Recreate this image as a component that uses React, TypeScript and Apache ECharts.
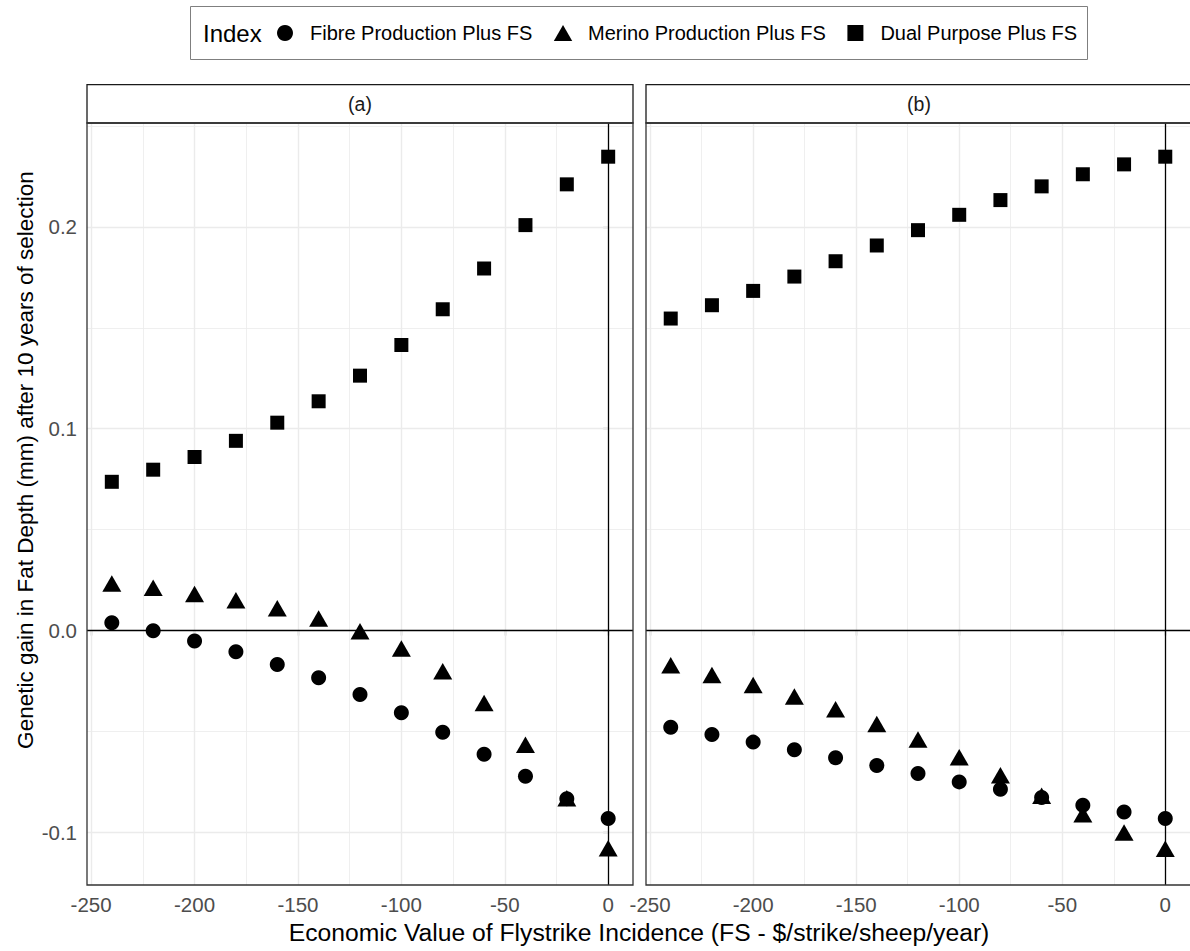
import React, { useEffect, useRef } from "react";
import * as echarts from "echarts";

// ---- data ----
const xValues = [-240, -220, -200, -180, -160, -140, -120, -100, -80, -60, -40, -20, 0];
const indexNames = ["Fibre Production Plus FS", "Merino Production Plus FS", "Dual Purpose Plus FS"];
const panelNames = ["(a)", "(b)"];

// panel (a)
const fibreA = [0.0039, -0.0001, -0.0052, -0.0105, -0.0168, -0.0234, -0.0317, -0.0408, -0.0504, -0.0613, -0.0722, -0.0833, -0.0932];
const merinoA = [0.0219, 0.0198, 0.0168, 0.0136, 0.0097, 0.0046, -0.0017, -0.0103, -0.0215, -0.0373, -0.058, -0.0845, -0.1093];
const dualA = [0.0737, 0.0797, 0.086, 0.094, 0.103, 0.1136, 0.1263, 0.1415, 0.1592, 0.1794, 0.2009, 0.2211, 0.2348];

// panel (b)
const fibreB = [-0.0479, -0.0515, -0.0553, -0.0591, -0.0631, -0.0669, -0.0709, -0.075, -0.0787, -0.0828, -0.0866, -0.0899, -0.0932];
const merinoB = [-0.0186, -0.0234, -0.0283, -0.034, -0.0404, -0.0477, -0.0553, -0.0641, -0.0731, -0.0832, -0.0924, -0.1015, -0.1095];
const dualB = [0.1546, 0.1612, 0.1683, 0.1754, 0.183, 0.1908, 0.1984, 0.206, 0.2133, 0.2201, 0.2261, 0.231, 0.2348];

const xTicks = [-250, -200, -150, -100, -50, 0];
const xMinor = [-225, -175, -125, -75, -25];
const yTicks = [-0.1, 0.0, 0.1, 0.2];
const yMinor = [-0.05, 0.05, 0.15, 0.25];

const X_MIN = -252;
const X_MAX = 12;
const Y_MIN = -0.1261;
const Y_MAX = 0.2515;

const FONT = "'Liberation Sans', Arial, sans-serif";

const GRID_TOP = 123;
const GRID_H = 762;
const GRID_W = 546;
const GRID_LEFTS = [87, 646];

function pts(vals: number[]) {
  return vals.map((v, i) => [xValues[i], v]);
}

export default function App() {
  const ref = useRef<HTMLDivElement>(null);

  useEffect(() => {
    document.body.style.margin = "0";
    if (!ref.current) return;
    const chart = echarts.init(ref.current, undefined, { renderer: "svg" });

    const panelData = [
      [fibreA, merinoA, dualA],
      [fibreB, merinoB, dualB],
    ];
    const symbols: any[] = [
      { symbol: "circle", symbolSize: 15, symbolOffset: [0, 0] },
      { symbol: "triangle", symbolSize: [19, 16.5], symbolOffset: [0, -2.75] },
      { symbol: "rect", symbolSize: 14, symbolOffset: [0, 0] },
    ];

    const grids = GRID_LEFTS.map((l) => ({ left: l, top: GRID_TOP, width: GRID_W, height: GRID_H, containLabel: false }));

    const xAxes = GRID_LEFTS.map((_, i) => ({
      type: "value",
      gridIndex: i,
      min: X_MIN,
      max: X_MAX,
      axisLine: { show: false },
      splitLine: { show: false },
      axisTick: { show: true, length: 5, customValues: xTicks, lineStyle: { color: "#333333", width: 1.2 } },
      axisLabel: {
        show: true,
        customValues: xTicks,
        color: "#4d4d4d",
        fontSize: 20.5,
        fontFamily: FONT,
        margin: 9,
        formatter: (v: number) => String(v),
      },
    }));

    const yAxes = GRID_LEFTS.map((_, i) => ({
      type: "value",
      gridIndex: i,
      min: Y_MIN,
      max: Y_MAX,
      axisLine: { show: false },
      splitLine: { show: false },
      axisTick: { show: i === 0, length: 5, customValues: yTicks, lineStyle: { color: "#333333", width: 1.2 } },
      axisLabel: {
        show: i === 0,
        customValues: yTicks,
        color: "#4d4d4d",
        fontSize: 20.5,
        fontFamily: FONT,
        margin: 10,
        formatter: (v: number) => v.toFixed(1),
      },
    }));

    const gridLineSeries: any[] = [];
    GRID_LEFTS.forEach((_, i) => {
      const major = { color: "#ebebeb", width: 1.4, type: "solid" };
      const minor = { color: "#ebebeb", width: 0.8, type: "solid" };
      const zero = { color: "#000000", width: 1.3, type: "solid" };
      gridLineSeries.push({
        type: "scatter",
        xAxisIndex: i,
        yAxisIndex: i,
        data: [],
        silent: true,
        z: 1,
        markLine: {
          silent: true,
          symbol: ["none", "none"],
          label: { show: false },
          animation: false,
          data: [
            ...xMinor.map((v) => ({ xAxis: v, lineStyle: minor })),
            ...yMinor.map((v) => ({ yAxis: v, lineStyle: minor })),
            ...xTicks.filter((v) => v !== 0).map((v) => ({ xAxis: v, lineStyle: major })),
            ...yTicks.filter((v) => v !== 0).map((v) => ({ yAxis: v, lineStyle: major })),
          ],
        },
      });
      gridLineSeries.push({
        type: "scatter",
        xAxisIndex: i,
        yAxisIndex: i,
        data: [],
        silent: true,
        z: 2,
        markLine: {
          silent: true,
          symbol: ["none", "none"],
          label: { show: false },
          animation: false,
          data: [
            { xAxis: 0, lineStyle: zero },
            { yAxis: 0, lineStyle: zero },
          ],
        },
      });
    });

    const pointSeries: any[] = [];
    panelData.forEach((sets, p) => {
      sets.forEach((vals, k) => {
        pointSeries.push({
          type: "scatter",
          name: indexNames[k],
          xAxisIndex: p,
          yAxisIndex: p,
          data: pts(vals),
          ...symbols[k],
          itemStyle: { color: "#000000", opacity: 1 },
          z: 5,
        });
      });
    });

    const graphics: any[] = [];
    // legend box + title
    graphics.push({
      type: "rect",
      shape: { x: 190.5, y: 6.5, width: 897, height: 53 },
      style: { fill: "#ffffff", stroke: "#7f7f7f", lineWidth: 1 },
      z: -1,
    });
    graphics.push({
      type: "text",
      x: 203,
      y: 33,
      style: { text: "Index", fontSize: 24, fontFamily: FONT, fill: "#000000", verticalAlign: "middle", align: "left" },
    });
    // strips
    GRID_LEFTS.forEach((l, i) => {
      graphics.push({
        type: "rect",
        shape: { x: l, y: 84.7, width: GRID_W, height: GRID_TOP - 84.7 },
        style: { fill: "#ffffff", stroke: "#1a1a1a", lineWidth: 1.3 },
        z: 10,
      });
      graphics.push({
        type: "text",
        x: l + GRID_W / 2,
        y: (84.7 + GRID_TOP) / 2,
        style: { text: panelNames[i], fontSize: 19.5, fontFamily: FONT, fill: "#1a1a1a", align: "center", verticalAlign: "middle" },
        z: 11,
      });
      // panel borders
      graphics.push({
        type: "rect",
        shape: { x: l, y: GRID_TOP, width: GRID_W, height: GRID_H },
        style: { fill: "none", stroke: "#333333", lineWidth: 1.3 },
        z: 100,
        silent: true,
      });
    });
    // axis titles
    graphics.push({
      type: "text",
      x: 639,
      y: 932,
      style: {
        text: "Economic Value of Flystrike Incidence (FS - $/strike/sheep/year)",
        fontSize: 24.7,
        fontFamily: FONT,
        fill: "#000000",
        align: "center",
        verticalAlign: "middle",
      },
    });
    graphics.push({
      type: "text",
      x: 25,
      y: 460,
      rotation: Math.PI / 2,
      style: {
        text: "Genetic gain in Fat Depth (mm) after 10 years of selection",
        fontSize: 22.5,
        fontFamily: FONT,
        fill: "#000000",
        align: "center",
        verticalAlign: "middle",
      },
    });

    chart.setOption({
      animation: false,
      backgroundColor: "#ffffff",
      textStyle: { fontFamily: FONT },
      grid: grids,
      xAxis: xAxes,
      yAxis: yAxes,
      legend: {
        show: true,
        left: 277,
        top: 23,
        padding: 0,
        itemWidth: 40,
        itemHeight: 16,
        itemGap: 21.5,
        symbolKeepAspect: true,
        selectedMode: false,
        textStyle: { fontSize: 20, color: "#000000", fontFamily: FONT },
        data: [
          { name: indexNames[0], icon: "circle" },
          { name: indexNames[1], icon: "path://M9.5,0L19,16.5L0,16.5Z" },
          { name: indexNames[2], icon: "path://M0,0L14,0L14,14L0,14Z" },
        ],
        z: 20,
      },
      graphic: graphics,
      series: [...gridLineSeries, ...pointSeries],
    });

    return () => {
      chart.dispose();
    };
  }, []);

  return <div ref={ref} style={{ width: 1190, height: 951 }} />;
}
